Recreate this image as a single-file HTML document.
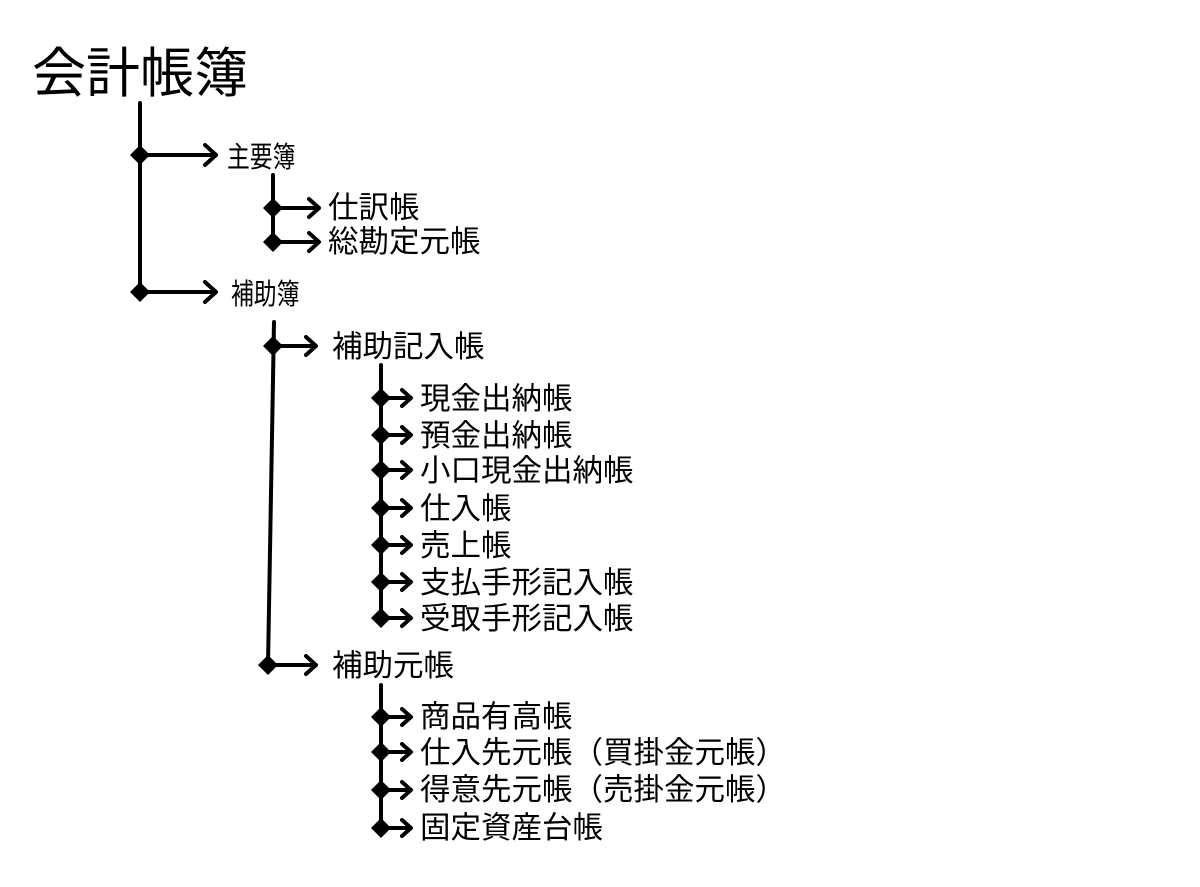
<!DOCTYPE html>
<html><head><meta charset="utf-8"><style>
html,body{margin:0;padding:0;background:#fff;}
svg text{font-family:"Liberation Sans","Noto Sans CJK JP",sans-serif;fill:#000;dominant-baseline:central;}
</style></head><body>
<svg width="1200" height="882" viewBox="0 0 1200 882" xmlns="http://www.w3.org/2000/svg">
<defs>
<g id="d"><polygon points="-10,0 0,-10 10,0 0,10" fill="#000"/></g>
</defs>
<g stroke="#000" stroke-width="4" fill="none" stroke-linecap="round" stroke-linejoin="round">
<line x1="140" y1="103" x2="140" y2="292"/>
<line x1="140" y1="155" x2="215" y2="155"/><polyline points="205,145 216,155 205,165"/>
<line x1="140" y1="292" x2="215" y2="292"/><polyline points="205,282 216,292 205,302"/>
<line x1="273" y1="175" x2="273" y2="242"/>
<line x1="273" y1="208" x2="318" y2="208"/><polyline points="309,199 319,208 309,217"/>
<line x1="273" y1="242" x2="318" y2="242"/><polyline points="309,233 319,242 309,251"/>
<line x1="274" y1="322" x2="268" y2="665"/>
<line x1="273" y1="346" x2="315" y2="346"/><polyline points="306,337 316,346 306,355"/>
<line x1="268" y1="665" x2="315" y2="665"/><polyline points="306,656 316,665 306,674"/>
<line x1="381" y1="365" x2="381" y2="618"/>
<line x1="381" y1="398" x2="410" y2="398"/><polyline points="402,390 411,398 402,406"/>
<line x1="381" y1="435" x2="410" y2="435"/><polyline points="402,427 411,435 402,443"/>
<line x1="381" y1="470" x2="410" y2="470"/><polyline points="402,462 411,470 402,478"/>
<line x1="381" y1="508" x2="410" y2="508"/><polyline points="402,500 411,508 402,516"/>
<line x1="381" y1="545" x2="410" y2="545"/><polyline points="402,537 411,545 402,553"/>
<line x1="381" y1="582" x2="410" y2="582"/><polyline points="402,574 411,582 402,590"/>
<line x1="381" y1="618" x2="410" y2="618"/><polyline points="402,610 411,618 402,626"/>
<line x1="381" y1="685" x2="381" y2="828"/>
<line x1="381" y1="717" x2="410" y2="717"/><polyline points="402,709 411,717 402,725"/>
<line x1="381" y1="752" x2="410" y2="752"/><polyline points="402,744 411,752 402,760"/>
<line x1="381" y1="790" x2="410" y2="790"/><polyline points="402,782 411,790 402,798"/>
<line x1="381" y1="828" x2="410" y2="828"/><polyline points="402,820 411,828 402,836"/>
</g>
<use href="#d" x="140" y="155"/><use href="#d" x="140" y="292"/>
<use href="#d" x="273" y="208"/><use href="#d" x="273" y="242"/>
<use href="#d" x="273" y="346"/><use href="#d" x="268" y="665"/>
<use href="#d" x="381" y="398"/><use href="#d" x="381" y="435"/><use href="#d" x="381" y="470"/>
<use href="#d" x="381" y="508"/><use href="#d" x="381" y="545"/><use href="#d" x="381" y="582"/>
<use href="#d" x="381" y="618"/>
<use href="#d" x="381" y="717"/><use href="#d" x="381" y="752"/><use href="#d" x="381" y="790"/><use href="#d" x="381" y="828"/>
<text x="32" y="74" font-size="54">会計帳簿</text>
<text transform="translate(227,157) scale(0.95,1.2)" font-size="24">主要簿</text>
<text transform="translate(231,294) scale(0.95,1.2)" font-size="24">補助簿</text>
<g font-size="30.5">
<text x="328" y="208">仕訳帳</text>
<text x="328" y="242">総勘定元帳</text>
<text x="332" y="347">補助記入帳</text>
<text x="332" y="666">補助元帳</text>
<text x="420" y="399">現金出納帳</text>
<text x="420" y="436">預金出納帳</text>
<text x="420" y="471">小口現金出納帳</text>
<text x="420" y="509">仕入帳</text>
<text x="420" y="546">売上帳</text>
<text x="420" y="583">支払手形記入帳</text>
<text x="420" y="619">受取手形記入帳</text>
<text x="420" y="717">商品有高帳</text>
<text x="420" y="753">仕入先元帳（買掛金元帳）</text>
<text x="420" y="790">得意先元帳（売掛金元帳）</text>
<text x="420" y="828">固定資産台帳</text>
</g>
</svg>
</body></html>
